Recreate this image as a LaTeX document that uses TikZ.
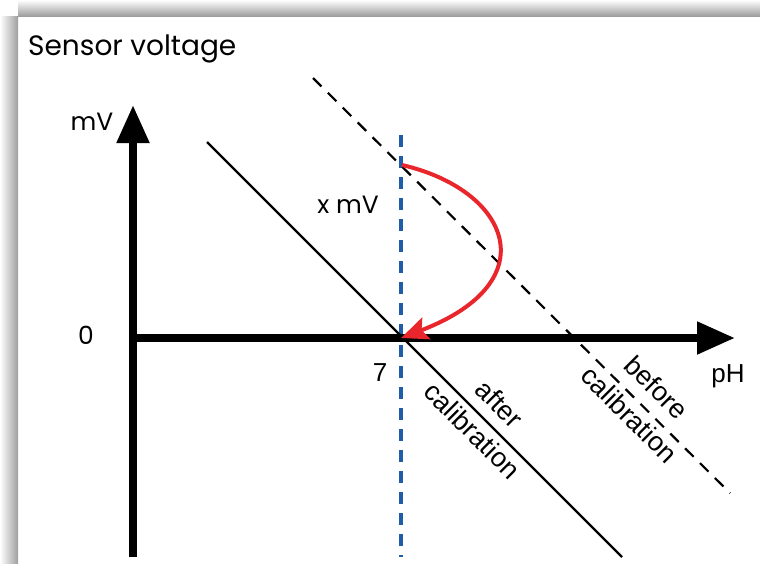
\documentclass[tikz,border=0pt]{standalone}
\usepackage{fontspec}
\setmainfont{Liberation Sans}
\newfontfamily\geofont{Poppins}
\usepackage{xcolor}
\definecolor{calred}{HTML}{E8262B}
\definecolor{refblue}{HTML}{1F5DA8}
\definecolor{shadowgray}{gray}{0.62}
\usetikzlibrary{arrows.meta}

\begin{document}
\begin{tikzpicture}[
  x=1pt, y=-1pt,
  title/.style={anchor=base west, inner sep=0pt,
    font=\geofont\fontsize{28}{32}\selectfont},
  geolabel/.style={inner sep=0pt, font=\geofont\fontsize{25}{28}\selectfont},
  sanslabel/.style={inner sep=0pt, font=\fontsize{26}{28}\selectfont},
  slanted/.style={inner sep=0pt, align=center, rotate=-45,
    font=\fontsize{27}{38}\selectfont},
  axisline/.style={line width=8pt, -{Triangle[length=38pt,width=31pt]}},
  calline/.style={line width=2.2pt},
  oldline/.style={line width=2.2pt, dash pattern=on 12pt off 9pt},
  refline/.style={refblue, line width=3.2pt, dash pattern=on 12pt off 9pt},
  shiftarr/.style={calred, line width=4pt,
    -{Stealth[length=27pt,width=23pt,inset=5pt]}}
]
\useasboundingbox (0,0) rectangle (760,563);
% frame shadow
\shade[top color=white, bottom color=shadowgray] (18,0) rectangle (760,16);
\shade[left color=white, right color=shadowgray] (0,16) rectangle (18,563);

\node[title] (head) at (28,55) {Sensor voltage};

\coordinate (origin) at (133,338);
\coordinate (ybot) at (133,557);
\coordinate (ytop) at (133,105);
\coordinate (xend) at (735,338);
\coordinate (ph7) at (401,338);

% reference line at pH 7
\draw[refline] (401,135) coordinate (bluetop) -- (401,557) coordinate (bluebot);

% calibration lines
\coordinate (aftstart) at (207,142);
\coordinate (aftend) at (622,557);
\coordinate (befstart) at (313,78);
\coordinate (befend) at (730,493);
\coordinate (offset) at (402,165);
\draw[calline] (aftstart) -- (aftend);
\draw[oldline] (befstart) -- (befend);

% axes
\draw[axisline] (ybot) -- (ytop);
\draw[axisline] (origin) -- (xend);

\draw[shiftarr] (offset) .. controls (510,190) and (548,282) .. (ph7);

\node[geolabel] (mvlabel) at (92,122) {mV};
\node[geolabel] (zero) at (86,335) {0};
\node[geolabel] (xmv) at (348,205) {x mV};
\node[sanslabel] (seven) at (380,373) {7};
\node[sanslabel] (phlabel) at (728,376) {pH};
\node[slanted] (after) at (486,417) {after\\calibration};
\node[slanted] (before) at (643,401) {before\\calibration};
\end{tikzpicture}
\end{document}
